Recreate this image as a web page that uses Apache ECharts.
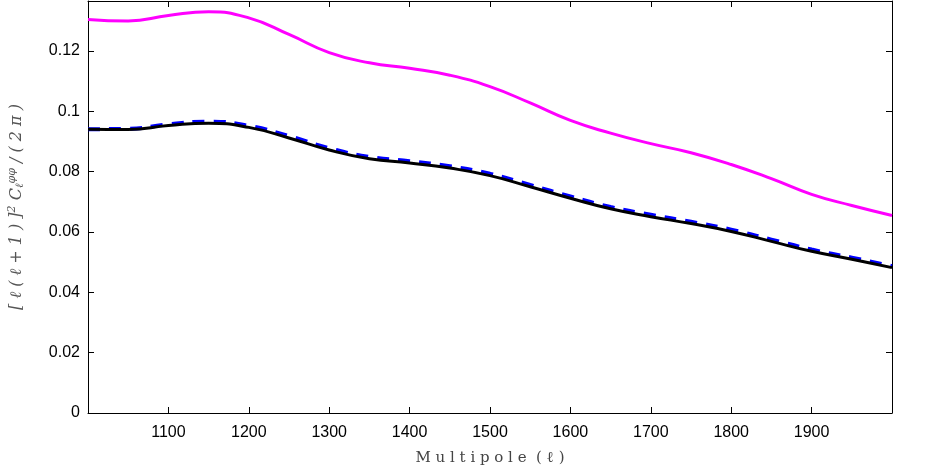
<!DOCTYPE html>
<html>
<head>
<meta charset="utf-8">
<script src="https://cdn.jsdelivr.net/npm/echarts@6/dist/echarts.min.js"></script>
<style>
  html, body { margin: 0; padding: 0; background: #fff; }
  #chart { width: 940px; height: 469px; }
</style>
</head>
<body>
<div id="chart"></div>
<script>
// multipole values, sampled every 50
const ell = [1000, 1050, 1100, 1150, 1200, 1250, 1300, 1350, 1400, 1450, 1500,
             1550, 1600, 1650, 1700, 1750, 1800, 1850, 1900, 1950, 2000];

// magenta curve (upper)
const magentaVals = [0.1305, 0.1300, 0.1318, 0.1330, 0.1310, 0.1255, 0.1195, 0.1161, 0.1143, 0.1120, 0.1082,
                     0.1028, 0.0970, 0.0928, 0.0893, 0.0863, 0.0824, 0.0777, 0.0725, 0.0688, 0.0655];
// black solid curve
const blackVals = [0.0941, 0.0940, 0.0953, 0.0961, 0.0947, 0.0912, 0.0872, 0.0843, 0.0829, 0.0812, 0.0787,
                   0.0750, 0.0712, 0.0677, 0.0651, 0.0628, 0.0602, 0.0569, 0.0536, 0.0510, 0.0482];
// blue dashed curve
const blueVals = [0.0941, 0.0942, 0.0957, 0.0966, 0.0952, 0.0918, 0.0878, 0.0849, 0.0835, 0.0818, 0.0793,
                  0.0756, 0.0718, 0.0683, 0.0657, 0.0634, 0.0608, 0.0575, 0.0542, 0.0515, 0.0487];

const pairs = (vals) => ell.map((x, i) => [x, vals[i]]);

const chart = echarts.init(document.getElementById('chart'));

const xCommon = {
  type: 'value', min: 1000, max: 2000, interval: 100,
  axisLine: { show: true, onZero: false, lineStyle: { color: '#000', width: 1 } },
  axisTick: { show: true, inside: true, length: 6, lineStyle: { color: '#000' } },
  splitLine: { show: false }
};
const yCommon = {
  type: 'value', min: 0, max: 0.1366, interval: 0.02,
  axisLine: { show: true, onZero: false, lineStyle: { color: '#000', width: 1 } },
  axisTick: { show: true, inside: true, length: 6, lineStyle: { color: '#000' } },
  splitLine: { show: false }
};

chart.setOption({
  animation: false,
  grid: { left: 88, right: 48, top: 1, bottom: 56, outerBoundsMode: 'none', containLabel: false },
  xAxis: [
    Object.assign({}, xCommon, {
      position: 'bottom',
      name: 'M u l t i p o l e  ( ℓ )',
      nameLocation: 'middle',
      nameGap: 38,
      nameTextStyle: { fontFamily: 'DejaVu Serif', fontSize: 15, color: '#444' },
      axisLabel: {
        showMinLabel: false, showMaxLabel: false, margin: 12,
        formatter: (v) => String(v),
        fontFamily: 'Liberation Sans', fontSize: 16, color: '#000'
      }
    }),
    Object.assign({}, xCommon, { position: 'top', axisLabel: { show: false } })
  ],
  yAxis: [
    Object.assign({}, yCommon, {
      position: 'left',
      name: '{t|[ ℓ ( ℓ + 1 ) ]}{s|2}{t| C}{b|ℓ}{s|φφ}{t| / ( 2 π )}',
      nameLocation: 'middle',
      nameGap: 62,
      nameRotate: 90,
      nameTextStyle: {
        rich: {
          t: { fontFamily: 'DejaVu Serif', fontSize: 16, color: '#555', fontStyle: 'italic' },
          s: { fontFamily: 'DejaVu Serif', fontSize: 11, color: '#555', fontStyle: 'italic', verticalAlign: 'top', padding: [0, 0, 8, 0] },
          b: { fontFamily: 'DejaVu Serif', fontSize: 11, color: '#555', fontStyle: 'italic', verticalAlign: 'bottom', padding: [8, 0, 0, 0] }
        }
      },
      axisLabel: {
        showMaxLabel: false, margin: 8,
        fontFamily: 'Liberation Sans', fontSize: 16, color: '#000'
      }
    }),
    Object.assign({}, yCommon, { position: 'right', axisLabel: { show: false } })
  ],
  series: [
    {
      name: 'magenta', type: 'line', smooth: true, symbol: 'none',
      data: pairs(magentaVals),
      lineStyle: { color: '#ff00ff', width: 3 }
    },
    {
      name: 'blue', type: 'line', smooth: true, symbol: 'none',
      data: pairs(blueVals),
      lineStyle: { color: '#0000ff', width: 4, type: [12, 9] }
    },
    {
      name: 'black', type: 'line', smooth: true, symbol: 'none',
      data: pairs(blackVals),
      lineStyle: { color: '#000', width: 3 }
    }
  ]
});
</script>
</body>
</html>
